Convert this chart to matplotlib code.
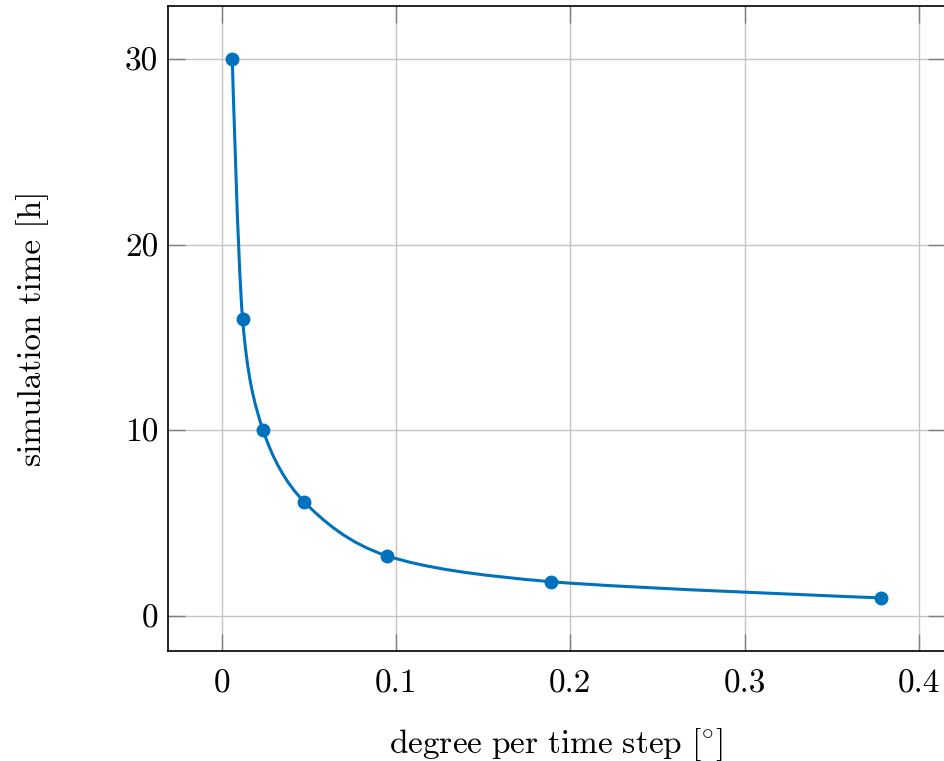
import numpy as np
import matplotlib.pyplot as plt
from matplotlib.path import Path
from matplotlib.patches import PathPatch

plt.rcParams['font.family'] = ['cmr10', 'DejaVu Serif']
plt.rcParams['mathtext.fontset'] = 'cm'
plt.rcParams['axes.unicode_minus'] = False

# step size in degrees and the resulting run time in hours
deg_per_step = [0.0059, 0.0118, 0.0236, 0.0472, 0.0945, 0.189, 0.378]
sim_hours = [30.0, 16.0, 10.0, 6.15, 3.25, 1.85, 0.98]

xtick_vals = [0, 0.1, 0.2, 0.3, 0.4]
xtick_labels = ['0', '0.1', '0.2', '0.3', '0.4']
ytick_vals = [0, 10, 20, 30]
ytick_labels = ['0', '10', '20', '30']

line_col = '#0072BD'
fs = 24


def smooth_path(xs, ys, tension=0.55):
    # bezier through the points, same construction as tikz "smooth"
    k = 0.2775 * tension
    p = np.column_stack([xs, ys])
    n = len(p)
    verts = [p[0]]
    codes = [Path.MOVETO]
    for i in range(n - 1):
        prev_p = p[i - 1] if i > 0 else p[i]
        nxt = p[i + 2] if i + 2 < n else p[i + 1]
        c1 = p[i] + k * (p[i + 1] - prev_p) if i > 0 else p[i]
        c2 = p[i + 1] - k * (nxt - p[i]) if i + 2 < n else p[i + 1]
        verts += [c1, c2, p[i + 1]]
        codes += [Path.CURVE4] * 3
    return Path(verts, codes)


fig = plt.figure(figsize=(9.45, 7.61), dpi=100)
ax = fig.add_axes([168 / 945, 1 - 651 / 761, 777 / 945, 645 / 761])

ax.set_xlim(-0.031, 0.415)
ax.set_ylim(-1.88, 32.85)

ax.grid(True, color='#c4c4c4', linewidth=1.0, zorder=0)
ax.set_axisbelow(True)

ax.add_patch(PathPatch(smooth_path(deg_per_step, sim_hours), facecolor='none',
                       edgecolor=line_col, linewidth=2.2, zorder=3))
ax.plot(deg_per_step, sim_hours, 'o', color=line_col, markersize=9, zorder=4)

ax.set_xticks(xtick_vals)
ax.set_xticklabels(xtick_labels)
ax.set_yticks(ytick_vals)
ax.set_yticklabels(ytick_labels)
ax.tick_params(direction='in', length=12, width=1.0, color='#7f7f7f',
               top=True, right=True, labelsize=fs)
ax.tick_params(axis='x', pad=13)
ax.tick_params(axis='y', pad=7)

for side in ['left', 'bottom', 'top', 'right']:
    ax.spines[side].set_linewidth(1.2)
    ax.spines[side].set_color('black')

# cmr10 has no degree glyph, so the label goes through mathtext
ax.set_xlabel(r'$\mathrm{degree\ per\ time\ step\ [{}^{\circ}]}$', fontsize=fs, labelpad=20)
ax.set_ylabel('simulation time [h]', fontsize=fs, labelpad=55)

fig.savefig('out.png', dpi=100)
